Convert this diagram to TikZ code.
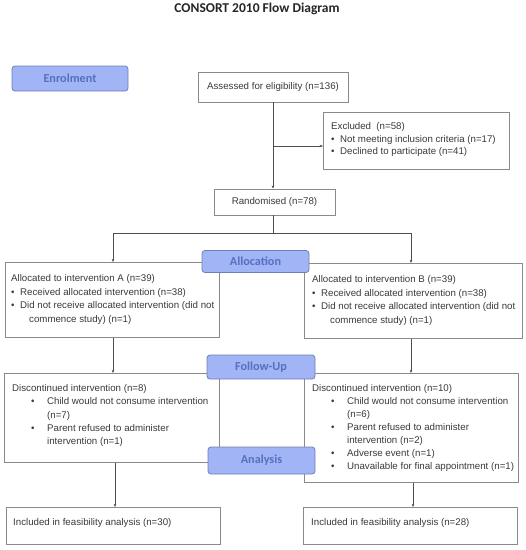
\documentclass[tikz,border=0pt]{standalone}
\usepackage{fontspec}
\setmainfont{Liberation Sans}
\newfontfamily\calib{Carlito}
\usetikzlibrary{arrows.meta}
\definecolor{boxline}{HTML}{8A8A8A}
\definecolor{txt}{HTML}{3A3A3A}
\definecolor{stagefill}{HTML}{A0B4F6}
\definecolor{stageline}{HTML}{6E80B2}
\definecolor{stagetxt}{HTML}{5670BE}
\tikzset{
  flowbox/.style={draw=boxline, line width=0.8pt, fill=white, inner sep=0pt},
  boxtext/.style={anchor=north west, inner sep=0pt, align=left, text=txt, font=\fontsize{9.7}{13.8}\selectfont},
  centertext/.style={inner sep=0pt, text=txt, font=\fontsize{9.7}{11}\selectfont},
  stagebox/.style={draw=stageline, line width=0.8pt, fill=stagefill, rounded corners=3pt, inner sep=0pt, text=stagetxt, font=\calib\bfseries\fontsize{12.2}{14}\selectfont},
  conn/.style={draw=txt!90, line width=0.8pt},
  arr/.style={conn, -{Stealth[length=3.2pt,width=2.6pt]}},
}
\newcommand{\bl}{\makebox[9pt][l]{\textbullet}}
\newcommand{\bli}{\hspace*{19pt}\makebox[16pt][l]{\textbullet}}
\newcommand{\cont}{\hspace*{35pt}}
\begin{document}
\begin{tikzpicture}[x=1pt,y=-1pt]
\useasboundingbox (0,0) rectangle (526,550);
\fill[white] (0,0) rectangle (526,550);
% title
\node[font=\calib\bfseries\fontsize{13.5}{15}\selectfont, text=black!85] (title) at (257,9) {CONSORT 2010 Flow Diagram};

% boxes
\node[flowbox, minimum width=150pt, minimum height=30pt] (assess) at (273,87) {};
\node[centertext] (assesst) at (assess.center) {Assessed for eligibility (n=136)};

\node[flowbox, minimum width=186pt, minimum height=57pt, anchor=north west] (excl) at (323,112) {};
\node[boxtext, font=\fontsize{9.7}{12.8}\selectfont] (exclt) at (331,122) {Excluded\ \ (n=58)\\ \bl Not meeting inclusion criteria (n=17)\\ \bl Declined to participate (n=41)};

\node[flowbox, minimum width=121pt, minimum height=26pt] (rand) at (274.5,202) {};
\node[centertext] (randt) at (rand.center) {Randomised (n=78)};

\node[flowbox, minimum width=214pt, minimum height=75pt, anchor=north west] (allocA) at (5,262) {};
\node[boxtext] (allocAt) at (11,274) {Allocated to intervention A (n=39)\\ \bl Received allocated intervention (n=38)\\ \bl Did not receive allocated intervention (did not\\ \hspace*{18pt}commence study) (n=1)};

\node[flowbox, minimum width=218pt, minimum height=75pt, anchor=north west] (allocB) at (304,263) {};
\node[boxtext] (allocBt) at (312,275) {Allocated to intervention B (n=39)\\ \bl Received allocated intervention (n=38)\\ \bl Did not receive allocated intervention (did not\\ \hspace*{18pt}commence study) (n=1)};

\node[flowbox, minimum width=215pt, minimum height=89pt, anchor=north west] (discA) at (4,373) {};
\node[boxtext, font=\fontsize{9.7}{13.2}\selectfont] (discAt) at (12,384.5) {Discontinued intervention (n=8)\\
\bli Child would not consume intervention\\
\cont(n=7)\\
\bli Parent refused to administer\\
\cont intervention (n=1)};

\node[flowbox, minimum width=214pt, minimum height=109pt, anchor=north west] (discB) at (304,373) {};
\node[boxtext, font=\fontsize{9.7}{13}\selectfont] (discBt) at (312,384.5) {Discontinued intervention (n=10)\\
\bli Child would not consume intervention\\
\cont(n=6)\\
\bli Parent refused to administer\\
\cont intervention (n=2)\\
\bli Adverse event (n=1)\\
\bli Unavailable for final appointment (n=1)};

\node[flowbox, minimum width=214pt, minimum height=37pt, anchor=north west] (inclA) at (6,507) {};
\node[boxtext] (inclAt) at (13,518) {Included in feasibility analysis (n=30)};

\node[flowbox, minimum width=214pt, minimum height=37pt, anchor=north west] (inclB) at (303,507) {};
\node[boxtext] (inclBt) at (311,518) {Included in feasibility analysis (n=28)};

% connectors
\coordinate (exj) at (273,146);
\coordinate (split) at (273,233);
\draw[arr] (assess.south) -- (assess.south |- rand.north);
\draw[arr] (exj) -- (exj -| excl.west);
\draw[conn] (rand.south -| split) -- (split);
\draw[arr] (split) -| (allocA.north -| 113,0);
\draw[arr] (split) -| (allocB.north -| 411,0);
\draw[arr] (allocA.south -| 113,0) -- (discA.north -| 113,0);
\draw[arr] (allocB.south -| 411,0) -- (discB.north -| 411,0);
\draw[arr] (discA.south -| 115,0) -- (inclA.north -| 115,0);
\draw[arr] (discB.south -| 413,0) -- (inclB.north -| 413,0);

% stage labels
\node[stagebox, minimum width=116pt, minimum height=25pt] (enrol) at (70,78.5) {Enrolment};
\node[stagebox, minimum width=107pt, minimum height=22pt] (alloc) at (255.5,261.5) {Allocation};
\node[stagebox, minimum width=108pt, minimum height=24pt] (follow) at (261,367) {Follow-Up};
\node[stagebox, minimum width=107pt, minimum height=27pt] (anal) at (261.5,460.5) {Analysis};
\end{tikzpicture}
\end{document}
